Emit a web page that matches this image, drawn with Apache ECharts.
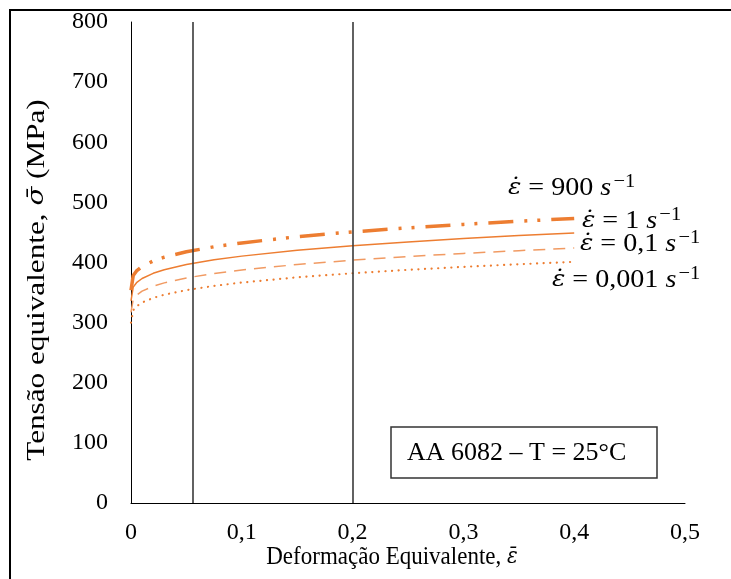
<!DOCTYPE html>
<html>
<head>
<meta charset="utf-8">
<script src="https://cdn.jsdelivr.net/npm/echarts@6/dist/echarts.min.js"></script>
<style>
  html, body { margin: 0; padding: 0; background: #fff; }
  #chart { width: 731px; height: 579px; }
</style>
</head>
<body>
<div id="chart"></div>
<script>
// Equivalent strain (x) and flow stress in MPa (y) for AA 6082 at 25 °C
const strain      = [0, 0.002, 0.005, 0.01, 0.02, 0.03, 0.05, 0.075, 0.1, 0.15, 0.2, 0.25, 0.3, 0.35, 0.4];
const stress900   = [354.0, 378.3, 386.0, 393.4, 402.5, 408.8, 417.8, 426.2, 432.6, 442.9, 450.9, 457.6, 463.4, 468.6, 473.3];
const stress1     = [336.0, 359.1, 366.4, 373.4, 382.0, 388.0, 396.6, 404.5, 410.6, 420.3, 428.0, 434.3, 439.8, 444.8, 449.2];
const stress01    = [317.1, 338.9, 345.7, 352.4, 360.5, 366.1, 374.3, 381.8, 387.5, 396.7, 403.9, 409.9, 415.1, 419.7, 424.0];
const stress0001  = [300.0, 320.6, 327.1, 333.4, 341.1, 346.4, 354.1, 361.2, 366.6, 375.3, 382.1, 387.8, 392.7, 397.1, 401.1];

// Reference strains marked by vertical lines
const guideStrains = [0.056, 0.2];

// Axis tick labels (decimal comma)
const xTickLabels = ['0', '0,1', '0,2', '0,3', '0,4', '0,5'];
const yTickLabels = ['0', '100', '200', '300', '400', '500', '600', '700', '800'];

const SERIF = "'Liberation Serif', 'Times New Roman', 'DejaVu Serif', serif";
const MATH = "'DejaVu Serif', 'Liberation Serif', serif";
const ORANGE = '#ED7D31';

const pairs = ys => strain.map((x, i) => [x, ys[i]]);

const chart = echarts.init(document.getElementById('chart'), null, { renderer: 'canvas' });

function rateLabel(value, x, y) {
  return {
    type: 'text',
    x: x,
    y: y,
    scaleX: 1.08,
    style: {
      text: '{e|ε\u0307}{t| = ' + value + ' }{s|s}{p|\u22121}',
      align: 'left',
      verticalAlign: 'middle',
      fill: '#000',
      rich: {
        e: { fontFamily: MATH, fontStyle: 'italic', fontSize: 23, lineHeight: 30, verticalAlign: 'middle', fill: '#000' },
        t: { fontFamily: SERIF, fontSize: 26, lineHeight: 30, verticalAlign: 'middle', fill: '#000' },
        s: { fontFamily: SERIF, fontStyle: 'italic', fontSize: 26, lineHeight: 30, verticalAlign: 'middle', fill: '#000' },
        p: { fontFamily: SERIF, fontSize: 19, lineHeight: 16, verticalAlign: 'top', padding: [0, 0, 0, 2], fill: '#000' }
      }
    }
  };
}

function curve(name, ys, lineStyle) {
  return {
    name: name,
    type: 'line',
    data: pairs(ys),
    smooth: false,
    showSymbol: false,
    lineStyle: lineStyle,
    z: 3
  };
}

const guideSeries = curve('0,001', stress0001, { color: ORANGE, width: 2.2, type: [0.1, 6.5], cap: 'round' });
guideSeries.markLine = {
  silent: true,
  symbol: 'none',
  precision: 4,
  label: { show: false },
  lineStyle: { color: '#3a3a3a', type: 'solid', width: 1.6 },
  data: guideStrains.map(v => ({ xAxis: v }))
};

const option = {
  backgroundColor: '#fff',
  animation: false,
  grid: { left: 131, right: 46, top: 22, bottom: 76, containLabel: false },
  xAxis: {
    type: 'value',
    min: 0,
    max: 0.5,
    interval: 0.1,
    axisLine: { show: true, lineStyle: { color: '#000', width: 1 } },
    axisTick: { show: false },
    splitLine: { show: false },
    axisLabel: {
      margin: 18,
      fontFamily: SERIF,
      fontSize: 24,
      color: '#000',
      formatter: v => xTickLabels[Math.round(v * 10)]
    }
  },
  yAxis: {
    type: 'value',
    min: 0,
    max: 800,
    interval: 100,
    axisLine: { show: true, lineStyle: { color: '#000', width: 1 } },
    axisTick: { show: false },
    splitLine: { show: false },
    axisLabel: {
      margin: 23,
      fontFamily: SERIF,
      fontSize: 24,
      color: '#000',
      formatter: v => yTickLabels[Math.round(v / 100)]
    }
  },
  series: [
    curve('900', stress900, { color: ORANGE, width: 3.5, type: [25, 11, 3, 10, 3, 11], cap: 'butt' }),
    curve('1', stress1, { color: ORANGE, width: 1.5, type: 'solid' }),
    curve('0,1', stress01, { color: '#F19A62', width: 1.5, type: [12, 8] }),
    guideSeries
  ],
  graphic: [
    {
      type: 'rect',
      shape: { x: 10, y: 10, width: 760, height: 620 },
      style: { fill: 'none', stroke: '#000', lineWidth: 2 },
      silent: true
    },
    {
      type: 'text',
      x: 37,
      y: 280,
      rotation: Math.PI / 2,
      scaleX: 1.2,
      style: {
        text: 'Tensão equivalente, {i|σ\u0304} (MPa)',
        fontFamily: SERIF,
        fontSize: 26,
        fill: '#000',
        align: 'center',
        verticalAlign: 'middle',
        rich: {
          i: { fontFamily: MATH, fontStyle: 'italic', fontSize: 23, fill: '#000' }
        }
      }
    },
    {
      type: 'text',
      x: 392,
      y: 557,
      scaleY: 1.12,
      style: {
        text: 'Deformação Equivalente, {i|ε\u0304}',
        fontFamily: SERIF,
        fontSize: 23,
        fill: '#000',
        align: 'center',
        verticalAlign: 'middle',
        rich: {
          i: { fontFamily: MATH, fontStyle: 'italic', fontSize: 20, fill: '#000' }
        }
      }
    },
    rateLabel('900', 508, 188),
    rateLabel('1', 582, 221),
    rateLabel('0,1', 580, 244),
    rateLabel('0,001', 552, 280),
    {
      type: 'rect',
      shape: { x: 391, y: 427, width: 266, height: 51 },
      style: { fill: '#fff', stroke: '#333', lineWidth: 1.5 }
    },
    {
      type: 'text',
      x: 407,
      y: 453,
      style: {
        text: 'AA 6082 – T = 25°C',
        fontFamily: SERIF,
        fontSize: 26,
        fill: '#000',
        align: 'left',
        verticalAlign: 'middle'
      }
    }
  ]
};

chart.setOption(option);
</script>
</body>
</html>
